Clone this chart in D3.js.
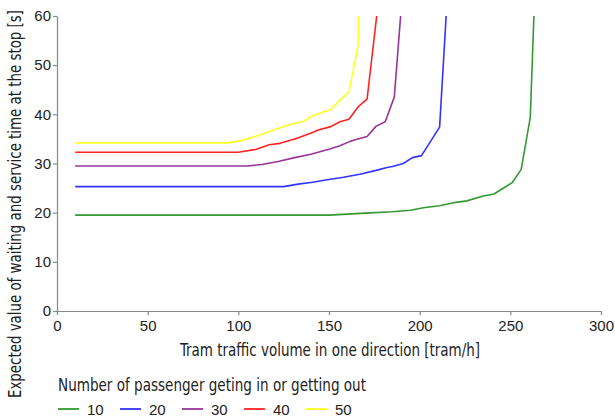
<!DOCTYPE html>
<html>
<head>
<meta charset="utf-8">
<script src="https://cdn.jsdelivr.net/npm/d3@7/dist/d3.min.js"></script>
<style>
  html, body { margin: 0; padding: 0; background: #fff; }
  svg { display: block; }
  .tick text, .num { font-family: "Liberation Sans", Arial, sans-serif; font-size: 15px; fill: #222; }
  .lbl { font-family: "DejaVu Sans Condensed", "Liberation Sans Narrow", sans-serif; font-size: 17px; fill: #222; }
</style>
</head>
<body>
<script>
// ---- data ----
const seriesNames = ["10", "20", "30", "40", "50"];
const seriesColors = ["#339933", "#3333ff", "#993399", "#ff2222", "#ffff22"];
const series10 = [[10,19.5],[150,19.5],[160,19.7],[170,19.9],[185,20.2],[195,20.5],[202,21.0],[211,21.4],[220,22.1],[226,22.4],[235,23.4],[241,23.8],[251,26.1],[256,28.8],[261,39.4],[263,60]];
const series20 = [[10,25.3],[125,25.3],[133,25.8],[141,26.2],[149,26.7],[158,27.2],[167,27.8],[176,28.6],[182,29.2],[185,29.4],[191,30.0],[196,31.2],[201,31.6],[211,37.4],[214.6,60]];
const series30 = [[10,29.5],[105,29.5],[113,29.8],[122,30.4],[131,31.2],[140,31.9],[150,32.9],[156,33.6],[161,34.4],[164,34.8],[171,35.5],[176,37.6],[181,38.5],[186,43.5],[189.5,60]];
const series40 = [[10,32.3],[100,32.3],[110,32.9],[117,33.8],[123,34.1],[132,35.1],[141,36.3],[144,36.8],[151,37.5],[156,38.5],[161,39.0],[166,41.5],[171,43.1],[176.3,60]];
const series50 = [[10,34.2],[95,34.2],[102,34.7],[112,35.8],[121,37.0],[129,38.0],[136,38.6],[141,39.7],[151,41.0],[156,42.9],[161,44.5],[166,53.8],[166.4,60]];
const allSeries = [series10, series20, series30, series40, series50];
const xTicks = [0, 50, 100, 150, 200, 250, 300];
const yTicks = [0, 10, 20, 30, 40, 50, 60];
const xTitle = "Tram traffic volume in one direction [tram/h]";
const yTitle = "Expected value of waiting and service time at the stop [s]";
const legendTitle = "Number of passenger geting in or getting out";

// ---- layout ----
const W = 615, H = 418;
const mLeft = 57, mRight = 601, mTop = 16, mBottom = 311;

const svg = d3.select("body").append("svg").attr("width", W).attr("height", H);

const x = d3.scaleLinear().domain([0, 300]).range([mLeft, mRight]);
const y = d3.scaleLinear().domain([0, 60]).range([mBottom, mTop]);

const axisColor = "#888";

const gx = svg.append("g").attr("transform", `translate(0,${mBottom})`)
  .call(d3.axisBottom(x).tickValues(xTicks).tickSize(4).tickPadding(5).tickSizeOuter(0));
const gy = svg.append("g").attr("transform", `translate(${mLeft},0)`)
  .call(d3.axisLeft(y).tickValues(yTicks).tickSize(4).tickPadding(2).tickSizeOuter(0));
[gx, gy].forEach(g => {
  g.select(".domain").attr("stroke", axisColor).attr("stroke-width", 1.2);
  g.selectAll(".tick line").attr("stroke", axisColor).attr("stroke-width", 1.2);
  g.attr("font-family", null).attr("font-size", null);
});

const line = d3.line().x(d => x(d[0])).y(d => y(d[1]));
svg.append("g").selectAll("path").data(allSeries).join("path")
  .attr("d", line)
  .attr("fill", "none")
  .attr("stroke", (d, i) => seriesColors[i])
  .attr("stroke-width", 1.6)
  .attr("stroke-linejoin", "round");

// titles
svg.append("text").attr("class", "lbl")
  .attr("x", 330).attr("y", 356)
  .attr("text-anchor", "middle")
  .attr("textLength", 300).attr("lengthAdjust", "spacingAndGlyphs")
  .text(xTitle);

svg.append("text").attr("class", "lbl")
  .attr("transform", `translate(21,204) rotate(-90)`)
  .attr("text-anchor", "middle")
  .attr("textLength", 388).attr("lengthAdjust", "spacingAndGlyphs")
  .text(yTitle);

// legend
svg.append("text").attr("class", "lbl")
  .attr("x", 58).attr("y", 391)
  .attr("textLength", 308).attr("lengthAdjust", "spacingAndGlyphs")
  .text(legendTitle);

const lg = svg.append("g").selectAll("g").data(seriesNames).join("g")
  .attr("transform", (d, i) => `translate(${58 + i * 62},409)`);
lg.append("line").attr("x1", 0).attr("x2", 21).attr("y1", 0).attr("y2", 0)
  .attr("stroke", (d, i) => seriesColors[i]).attr("stroke-width", 1.8);
lg.append("text").attr("class", "num").attr("x", 29).attr("y", 6)
  .text(d => d);
</script>
</body>
</html>
